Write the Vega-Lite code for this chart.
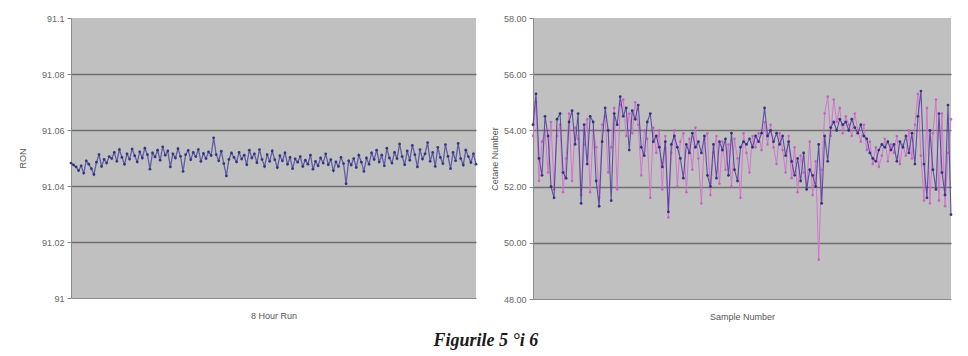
{
  "$schema": "https://vega.github.io/schema/vega-lite/v6.json",
  "background": "white",
  "padding": {"left": 18, "top": 14, "right": 10, "bottom": 2},
  "spacing": 11,
  "title": {"text": "Figurile 5 °i 6", "orient": "bottom", "anchor": "middle", "font": "Liberation Serif", "fontSize": 18, "fontStyle": "italic", "fontWeight": "bold", "color": "#1a1a1a", "offset": 11},
  "config": {
    "view": {"fill": "#c0c0c0", "stroke": null},
    "axis": {"labelFont": "Liberation Sans", "titleFont": "Liberation Sans", "labelFontSize": 9, "titleFontSize": 9, "labelColor": "#666666", "titleColor": "#555555", "titleFontWeight": "normal", "domainColor": "#8a8a8a", "tickColor": "#8a8a8a", "gridWidth": 1.6}
  },
  "datasets": {
    "ron": [
      {"i":1,"v":91.0482},{"i":2,"v":91.0475},{"i":3,"v":91.0468},{"i":4,"v":91.0455},{"i":5,"v":91.0472},{"i":6,"v":91.0446},{"i":7,"v":91.0490},{"i":8,"v":91.0478},{"i":9,"v":91.0462},{"i":10,"v":91.0441},
      {"i":11,"v":91.0485},{"i":12,"v":91.0512},{"i":13,"v":91.0470},{"i":14,"v":91.0495},{"i":15,"v":91.0482},{"i":16,"v":91.0505},{"i":17,"v":91.0498},{"i":18,"v":91.0520},{"i":19,"v":91.0488},{"i":20,"v":91.0530},
      {"i":21,"v":91.0502},{"i":22,"v":91.0478},{"i":23,"v":91.0515},{"i":24,"v":91.0496},{"i":25,"v":91.0532},{"i":26,"v":91.0508},{"i":27,"v":91.0486},{"i":28,"v":91.0522},{"i":29,"v":91.0500},{"i":30,"v":91.0535},
      {"i":31,"v":91.0512},{"i":32,"v":91.0460},{"i":33,"v":91.0518},{"i":34,"v":91.0504},{"i":35,"v":91.0528},{"i":36,"v":91.0492},{"i":37,"v":91.0540},{"i":38,"v":91.0510},{"i":39,"v":91.0525},{"i":40,"v":91.0468},
      {"i":41,"v":91.0515},{"i":42,"v":91.0500},{"i":43,"v":91.0533},{"i":44,"v":91.0506},{"i":45,"v":91.0452},{"i":46,"v":91.0512},{"i":47,"v":91.0527},{"i":48,"v":91.0494},{"i":49,"v":91.0520},{"i":50,"v":91.0505},
      {"i":51,"v":91.0530},{"i":52,"v":91.0488},{"i":53,"v":91.0516},{"i":54,"v":91.0498},{"i":55,"v":91.0522},{"i":56,"v":91.0509},{"i":57,"v":91.0572},{"i":58,"v":91.0512},{"i":59,"v":91.0490},{"i":60,"v":91.0524},
      {"i":61,"v":91.0480},{"i":62,"v":91.0436},{"i":63,"v":91.0495},{"i":64,"v":91.0518},{"i":65,"v":91.0502},{"i":66,"v":91.0486},{"i":67,"v":91.0520},{"i":68,"v":91.0496},{"i":69,"v":91.0510},{"i":70,"v":91.0476},
      {"i":71,"v":91.0528},{"i":72,"v":91.0500},{"i":73,"v":91.0515},{"i":74,"v":91.0483},{"i":75,"v":91.0530},{"i":76,"v":91.0495},{"i":77,"v":91.0470},{"i":78,"v":91.0512},{"i":79,"v":91.0488},{"i":80,"v":91.0525},
      {"i":81,"v":91.0494},{"i":82,"v":91.0466},{"i":83,"v":91.0508},{"i":84,"v":91.0490},{"i":85,"v":91.0518},{"i":86,"v":91.0478},{"i":87,"v":91.0502},{"i":88,"v":91.0462},{"i":89,"v":91.0497},{"i":90,"v":91.0485},
      {"i":91,"v":91.0505},{"i":92,"v":91.0470},{"i":93,"v":91.0492},{"i":94,"v":91.0478},{"i":95,"v":91.0510},{"i":96,"v":91.0460},{"i":97,"v":91.0488},{"i":98,"v":91.0472},{"i":99,"v":91.0500},{"i":100,"v":91.0482},
      {"i":101,"v":91.0515},{"i":102,"v":91.0476},{"i":103,"v":91.0494},{"i":104,"v":91.0455},{"i":105,"v":91.0486},{"i":106,"v":91.0470},{"i":107,"v":91.0502},{"i":108,"v":91.0480},{"i":109,"v":91.0408},{"i":110,"v":91.0490},
      {"i":111,"v":91.0475},{"i":112,"v":91.0498},{"i":113,"v":91.0466},{"i":114,"v":91.0510},{"i":115,"v":91.0485},{"i":116,"v":91.0452},{"i":117,"v":91.0500},{"i":118,"v":91.0478},{"i":119,"v":91.0518},{"i":120,"v":91.0495},
      {"i":121,"v":91.0528},{"i":122,"v":91.0486},{"i":123,"v":91.0510},{"i":124,"v":91.0472},{"i":125,"v":91.0535},{"i":126,"v":91.0500},{"i":127,"v":91.0482},{"i":128,"v":91.0520},{"i":129,"v":91.0498},{"i":130,"v":91.0550},
      {"i":131,"v":91.0505},{"i":132,"v":91.0476},{"i":133,"v":91.0525},{"i":134,"v":91.0492},{"i":135,"v":91.0545},{"i":136,"v":91.0512},{"i":137,"v":91.0468},{"i":138,"v":91.0530},{"i":139,"v":91.0496},{"i":140,"v":91.0515},
      {"i":141,"v":91.0555},{"i":142,"v":91.0488},{"i":143,"v":91.0520},{"i":144,"v":91.0470},{"i":145,"v":91.0538},{"i":146,"v":91.0502},{"i":147,"v":91.0480},{"i":148,"v":91.0548},{"i":149,"v":91.0506},{"i":150,"v":91.0462},
      {"i":151,"v":91.0520},{"i":152,"v":91.0490},{"i":153,"v":91.0552},{"i":154,"v":91.0498},{"i":155,"v":91.0475},{"i":156,"v":91.0528},{"i":157,"v":91.0505},{"i":158,"v":91.0484},{"i":159,"v":91.0515},{"i":160,"v":91.0478}
    ],
    "cn": [
      {"i":1,"a":54.2,"p":53.8},{"i":2,"a":55.3,"p":55.0},{"i":3,"a":53.0,"p":52.2},{"i":4,"a":52.4,"p":53.6},{"i":5,"a":54.5,"p":54.0},{"i":6,"a":53.8,"p":52.5},{"i":7,"a":52.0,"p":54.3},{"i":8,"a":51.6,"p":51.9},{"i":9,"a":54.4,"p":53.8},{"i":10,"a":54.6,"p":54.2},
      {"i":11,"a":52.5,"p":51.8},{"i":12,"a":52.3,"p":53.0},{"i":13,"a":54.3,"p":54.6},{"i":14,"a":54.7,"p":52.2},{"i":15,"a":53.5,"p":54.1},{"i":16,"a":54.6,"p":53.7},{"i":17,"a":51.4,"p":51.7},{"i":18,"a":54.2,"p":53.5},{"i":19,"a":52.8,"p":54.4},{"i":20,"a":54.5,"p":51.8},
      {"i":21,"a":54.3,"p":54.0},{"i":22,"a":52.2,"p":53.4},{"i":23,"a":51.3,"p":51.6},{"i":24,"a":53.6,"p":54.2},{"i":25,"a":54.8,"p":54.5},{"i":26,"a":54.0,"p":52.5},{"i":27,"a":51.5,"p":53.4},{"i":28,"a":54.6,"p":54.8},{"i":29,"a":54.2,"p":51.9},{"i":30,"a":55.2,"p":54.9},
      {"i":31,"a":54.5,"p":55.1},{"i":32,"a":54.8,"p":53.8},{"i":33,"a":53.3,"p":54.6},{"i":34,"a":54.7,"p":53.9},{"i":35,"a":54.4,"p":55.0},{"i":36,"a":54.9,"p":54.2},{"i":37,"a":53.4,"p":52.4},{"i":38,"a":53.1,"p":54.0},{"i":39,"a":54.3,"p":53.7},{"i":40,"a":54.6,"p":51.6},
      {"i":41,"a":53.6,"p":54.1},{"i":42,"a":53.8,"p":53.2},{"i":43,"a":53.4,"p":54.0},{"i":44,"a":52.7,"p":51.9},{"i":45,"a":53.6,"p":53.8},{"i":46,"a":51.1,"p":50.9},{"i":47,"a":53.5,"p":53.2},{"i":48,"a":53.8,"p":54.0},{"i":49,"a":53.4,"p":52.0},{"i":50,"a":53.0,"p":53.6},
      {"i":51,"a":52.3,"p":53.9},{"i":52,"a":53.5,"p":51.8},{"i":53,"a":53.2,"p":53.7},{"i":54,"a":53.9,"p":52.6},{"i":55,"a":53.4,"p":54.1},{"i":56,"a":53.6,"p":53.0},{"i":57,"a":53.2,"p":51.4},{"i":58,"a":53.8,"p":53.7},{"i":59,"a":52.4,"p":53.9},{"i":60,"a":52.0,"p":51.7},
      {"i":61,"a":53.5,"p":53.2},{"i":62,"a":52.3,"p":53.8},{"i":63,"a":53.6,"p":52.1},{"i":64,"a":53.3,"p":53.6},{"i":65,"a":53.7,"p":52.6},{"i":66,"a":52.4,"p":53.5},{"i":67,"a":53.9,"p":52.0},{"i":68,"a":52.6,"p":53.7},{"i":69,"a":52.2,"p":53.0},{"i":70,"a":53.4,"p":51.6},
      {"i":71,"a":53.6,"p":53.9},{"i":72,"a":53.5,"p":53.2},{"i":73,"a":53.7,"p":52.5},{"i":74,"a":53.4,"p":53.8},{"i":75,"a":53.8,"p":53.4},{"i":76,"a":53.6,"p":53.9},{"i":77,"a":53.9,"p":53.3},{"i":78,"a":54.8,"p":54.3},{"i":79,"a":53.8,"p":53.5},{"i":80,"a":54.0,"p":54.2},
      {"i":81,"a":53.6,"p":53.4},{"i":82,"a":53.9,"p":52.8},{"i":83,"a":53.5,"p":53.9},{"i":84,"a":53.8,"p":53.3},{"i":85,"a":53.1,"p":52.5},{"i":86,"a":53.6,"p":53.8},{"i":87,"a":52.9,"p":52.3},{"i":88,"a":52.4,"p":53.4},{"i":89,"a":53.0,"p":51.8},{"i":90,"a":52.2,"p":53.1},
      {"i":91,"a":53.2,"p":52.5},{"i":92,"a":51.9,"p":52.0},{"i":93,"a":52.6,"p":53.6},{"i":94,"a":52.4,"p":51.7},{"i":95,"a":52.0,"p":52.9},{"i":96,"a":53.5,"p":49.4},{"i":97,"a":51.4,"p":52.6},{"i":98,"a":53.8,"p":54.6},{"i":99,"a":52.9,"p":55.2},{"i":100,"a":54.1,"p":53.8},
      {"i":101,"a":54.3,"p":55.1},{"i":102,"a":54.0,"p":54.3},{"i":103,"a":54.4,"p":54.8},{"i":104,"a":54.2,"p":53.9},{"i":105,"a":54.3,"p":54.5},{"i":106,"a":54.0,"p":54.2},{"i":107,"a":54.4,"p":53.8},{"i":108,"a":54.1,"p":54.6},{"i":109,"a":53.9,"p":54.0},{"i":110,"a":54.2,"p":53.6},
      {"i":111,"a":53.8,"p":54.2},{"i":112,"a":53.7,"p":53.3},{"i":113,"a":53.2,"p":53.6},{"i":114,"a":53.0,"p":52.8},{"i":115,"a":52.9,"p":53.4},{"i":116,"a":53.3,"p":52.7},{"i":117,"a":53.5,"p":53.1},{"i":118,"a":53.4,"p":53.7},{"i":119,"a":53.6,"p":52.9},{"i":120,"a":53.3,"p":53.5},
      {"i":121,"a":53.5,"p":53.2},{"i":122,"a":52.9,"p":53.8},{"i":123,"a":53.6,"p":52.8},{"i":124,"a":53.4,"p":53.5},{"i":125,"a":53.8,"p":53.1},{"i":126,"a":53.2,"p":54.0},{"i":127,"a":53.9,"p":53.0},{"i":128,"a":52.8,"p":54.2},{"i":129,"a":54.5,"p":55.3},{"i":130,"a":55.4,"p":53.1},
      {"i":131,"a":52.8,"p":51.5},{"i":132,"a":51.6,"p":54.8},{"i":133,"a":54.0,"p":51.4},{"i":134,"a":52.6,"p":53.9},{"i":135,"a":51.9,"p":55.1},{"i":136,"a":54.6,"p":51.5},{"i":137,"a":52.5,"p":54.6},{"i":138,"a":51.7,"p":51.3},{"i":139,"a":54.9,"p":53.2},{"i":140,"a":51.0,"p":54.4}
    ]
  },
  "hconcat": [
    {
      "width": 405,
      "height": 280,
      "data": {"name": "ron"},
      "encoding": {
        "x": {"field": "i", "type": "quantitative", "scale": {"domain": [1, 160], "nice": false}, "axis": {"title": "8 Hour Run", "labels": false, "ticks": false, "grid": false, "titlePadding": 13}},
        "y": {"field": "v", "type": "quantitative", "scale": {"domain": [91, 91.1], "nice": false, "zero": false},
          "axis": {"title": "RON", "values": [91, 91.02, 91.04, 91.06, 91.08, 91.1], "format": ".2~f", "tickSize": 4, "labelPadding": 3, "titlePadding": 14,
            "gridColor": {"condition": {"test": "datum.value < 91.01 || datum.value > 91.09", "value": "transparent"}, "value": "#6f6f6f"}}}
      },
      "layer": [
        {"mark": {"type": "line", "color": "#5454a4", "strokeWidth": 1.3, "opacity": 0.9}},
        {"mark": {"type": "point", "filled": true, "size": 8, "color": "#2e2e78", "opacity": 0.9}}
      ]
    },
    {
      "width": 418,
      "height": 281,
      "data": {"name": "cn"},
      "encoding": {
        "x": {"field": "i", "type": "quantitative", "scale": {"domain": [1, 140], "nice": false}, "axis": {"title": "Sample Number", "labels": false, "ticks": false, "grid": false, "titlePadding": 13}}
      },
      "layer": [
        {"mark": {"type": "line", "color": "#d46ad0", "strokeWidth": 1, "opacity": 0.85},
         "encoding": {"y": {"field": "p", "type": "quantitative", "scale": {"domain": [48, 58], "nice": false, "zero": false},
           "axis": {"title": "Cetane Number", "values": [48, 50, 52, 54, 56, 58], "format": ".2f", "tickSize": 4, "labelPadding": 3, "titlePadding": 4,
             "gridColor": {"condition": {"test": "datum.value < 49 || datum.value > 57", "value": "transparent"}, "value": "#6f6f6f"}}}}},
        {"mark": {"type": "point", "filled": true, "size": 7, "color": "#c058c0", "opacity": 0.8},
         "encoding": {"y": {"field": "p", "type": "quantitative"}}},
        {"mark": {"type": "line", "color": "#4a3c9c", "strokeWidth": 1.1, "opacity": 0.85},
         "encoding": {"y": {"field": "a", "type": "quantitative"}}},
        {"mark": {"type": "point", "filled": true, "size": 8, "color": "#2c2a78", "opacity": 0.9},
         "encoding": {"y": {"field": "a", "type": "quantitative"}}}
      ]
    }
  ]
}
